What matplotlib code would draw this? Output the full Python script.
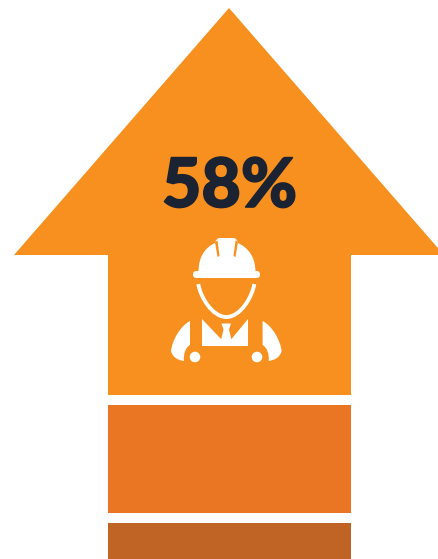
import matplotlib
matplotlib.use('Agg')
import numpy as np
import matplotlib.pyplot as plt
import matplotlib.patheffects as pe
from matplotlib.patches import Polygon, PathPatch, Circle, FancyBboxPatch
from matplotlib.path import Path

# the three tiers of the arrow shaft, top to bottom
tier_heights = [140, 108, 36]
tier_colors = ['#F7901E', '#EA7623', '#C06425']
share_label = '58%'

ORANGE = '#F7901E'
WHITE = '#FFFFFF'
W, H = 438, 559

fig = plt.figure(figsize=(W / 100, H / 100), dpi=100)
ax = fig.add_axes([0, 0, 1, 1])
ax.set_xlim(0, W)
ax.set_ylim(H, 0)   # y runs downward
ax.axis('off')

# shaft
top = 255
for height, color in zip(tier_heights, tier_colors):
    ax.bar(229.5, height, width=243, bottom=top, color=color, linewidth=0)
    top += height + 10

# arrow head
ax.add_patch(Polygon([(229, 8), (14, 255), (444, 255)], closed=True, fc=ORANGE, ec='none'))

ax.text(229.5, 207, share_label, ha='center', va='baseline', fontsize=49,
        family='Lato', weight='black', color='#1B2232',
        path_effects=[pe.withStroke(linewidth=1.2, foreground='#1B2232')])


def curve(verts, color=WHITE):
    # verts: start point then triples of bezier controls
    codes = [Path.MOVETO] + [Path.CURVE4] * (len(verts) - 1)
    return PathPatch(Path(verts, codes), fc=color, ec='none')


# helmet dome
dome = [(198.5, 272), (198.5, 258), (204, 248), (215, 243),
        (216, 240), (217, 238), (220, 238),
        (225, 238), (229, 238), (233, 238),
        (236, 238), (237, 240), (238, 243),
        (249, 248), (255.5, 258), (255.5, 272),
        (240, 272), (215, 272), (198.5, 272)]
ax.add_patch(curve(dome))
# slits either side of the ridge
ax.add_patch(Polygon([(215, 242), (217.5, 240.5), (219.5, 256), (217.5, 257)], fc=ORANGE, ec='none'))
ax.add_patch(Polygon([(235.5, 240.5), (238, 242), (235.5, 257), (233.5, 256)], fc=ORANGE, ec='none'))
# brim
ax.add_patch(FancyBboxPatch((193, 271), 67, 7, boxstyle='round,pad=0,rounding_size=3.5',
                            fc=WHITE, ec='none'))

# chin strap
strap = Path([(198.3, 284), (200, 296), (212, 317), (226.3, 317), (241, 317), (252.5, 296), (254.3, 284)],
             [Path.MOVETO] + [Path.CURVE4] * 6)
ax.add_patch(PathPatch(strap, fc='none', ec=WHITE, lw=2.8, capstyle='butt'))

# shoulders
left_arm = [(190, 321), (190, 330), (190, 337), (190, 345),
            (186, 347), (183, 354), (184, 361),
            (178, 360), (173, 358), (171, 351),
            (172, 341), (180, 326), (190, 321)]
ax.add_patch(curve(left_arm))
right_arm = [(2 * 226.3 - x, y) for x, y in left_arm]
ax.add_patch(curve(right_arm))

# buttons
ax.add_patch(Circle((195, 357), 5.3, fc=WHITE, ec='none'))
ax.add_patch(Circle((257, 357), 5.3, fc=WHITE, ec='none'))

# shirt with V neck and tie
ax.add_patch(Polygon([(202, 319), (221, 339), (231.5, 339), (248, 319),
                      (248, 346), (202, 346)], fc=WHITE, ec='none'))
ax.add_patch(Polygon([(221.5, 323.5), (231, 323.5), (229, 329.5), (231.5, 340), (221, 340),
                      (223.5, 329.5)], fc=WHITE, ec='none'))

fig.savefig('out.png', dpi=100, facecolor='white')
